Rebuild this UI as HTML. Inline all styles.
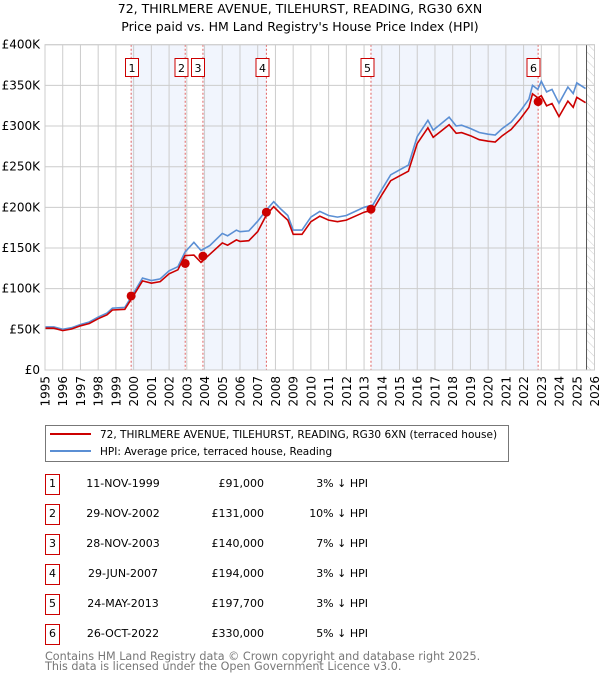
<!DOCTYPE html>
<html><head><meta charset="utf-8">
<style>
body{margin:0;background:#fff;font-family:"Liberation Sans","DejaVu Sans",sans-serif;}
svg text{font-family:"DejaVu Sans","Liberation Sans",sans-serif;}
</style></head>
<body>
<svg id="chart" width="600" height="680" xmlns="http://www.w3.org/2000/svg">
<text x="300" y="13" text-anchor="middle" font-size="12.5">72, THIRLMERE AVENUE, TILEHURST, READING, RG30 6XN</text>
<text x="300" y="31" text-anchor="middle" font-size="12.5">Price paid vs. HM Land Registry's House Price Index (HPI)</text>
<g id="plot"></g>
<g>
<rect x="45.5" y="425.5" width="463" height="36" fill="#fff" stroke="#777"/>
<line x1="50" y1="434" x2="91" y2="434" stroke="#cc0000" stroke-width="2"/>
<text x="100" y="438" font-size="10.5">72, THIRLMERE AVENUE, TILEHURST, READING, RG30 6XN (terraced house)</text>
<line x1="50" y1="451" x2="91" y2="451" stroke="#5b8fd4" stroke-width="2"/>
<text x="100" y="455" font-size="10.5">HPI: Average price, terraced house, Reading</text>
</g>
<g id="table"></g>
<text x="45" y="660" font-size="11.2" fill="#777">Contains HM Land Registry data © Crown copyright and database right 2025.</text>
<text x="45" y="670" font-size="11.2" fill="#777">This data is licensed under the Open Government Licence v3.0.</text>
</svg>
<script>
const hpiYears=[1995.0,1995.5,1996.0,1996.5,1997.0,1997.5,1998.0,1998.5,1998.8,1999.5,1999.9,2000.5,2001.0,2001.5,2002.0,2002.5,2002.9,2003.4,2003.8,2004.3,2005.0,2005.3,2005.8,2006.0,2006.5,2007.0,2007.5,2007.9,2008.3,2008.7,2009.0,2009.5,2010.0,2010.5,2011.0,2011.5,2012.0,2012.5,2013.0,2013.5,2014.0,2014.5,2015.0,2015.5,2016.0,2016.6,2016.9,2017.3,2017.8,2018.2,2018.5,2019.0,2019.5,2020.0,2020.4,2020.8,2021.3,2021.8,2022.3,2022.5,2022.8,2023.0,2023.3,2023.6,2024.0,2024.5,2024.8,2025.0,2025.5];
const hpiValues=[53,53,50,52,56,59,65,70,76,77,91,113,110,112,122,127,145,157,147,153,168,165,172,170,171,183,197,207,198,190,172,172,188,195,190,188,190,195,200,203,222,240,246,252,287,307,295,302,311,300,301,297,292,290,289,297,305,318,333,350,345,355,342,345,328,348,340,353,346];
const saleDates=[1999.86,2002.91,2003.91,2007.49,2013.39,2022.82];
const salePrices=[91000,131000,140000,194000,197700,330000];
const saleLabels=["11-NOV-1999","29-NOV-2002","28-NOV-2003","29-JUN-2007","24-MAY-2013","26-OCT-2022"];
const salePriceText=["£91,000","£131,000","£140,000","£194,000","£197,700","£330,000"];
const saleHpiPct=[3,10,7,3,3,5];
const yTicks=[0,50,100,150,200,250,300,350,400];
const yTickLabels=["£0","£50K","£100K","£150K","£200K","£250K","£300K","£350K","£400K"];
const xTicks=[1995,1996,1997,1998,1999,2000,2001,2002,2003,2004,2005,2006,2007,2008,2009,2010,2011,2012,2013,2014,2015,2016,2017,2018,2019,2020,2021,2022,2023,2024,2025,2026];

const NS="http://www.w3.org/2000/svg";
const X0=45,X1=594.5,Y0=370,Y1=44.7;
const xs=y=>X0+(y-1995)/(2026-1995)*(X1-X0);
const ys=v=>Y0-v/400*(Y0-Y1);
const plot=document.getElementById('plot');
function mk(tag,attrs,parent){const e=document.createElementNS(NS,tag);for(const k in attrs)e.setAttribute(k,attrs[k]);(parent||plot).appendChild(e);return e;}
mk('rect',{x:X0,y:Y1,width:X1-X0,height:Y0-Y1,fill:'#fff'});
for(let i=0;i+1<saleDates.length;i+=2){
  const r=mk('rect',{x:xs(saleDates[i]),y:Y1,width:xs(saleDates[i+1])-xs(saleDates[i]),height:Y0-Y1,fill:'#eef3fc',opacity:0.8});
  
  
}
const defs=mk('defs',{});
const pat=mk('pattern',{id:'hatch',width:6,height:6,patternUnits:'userSpaceOnUse',patternTransform:'rotate(-45)'},defs);
mk('line',{x1:0,y1:0,x2:0,y2:6,stroke:'#ccc','stroke-width':1},pat);
const hx=xs(2025.55);
const hr=mk('rect',{x:hx,y:Y1,width:X1-hx,height:Y0-Y1,fill:'url(#hatch)'});


xTicks.forEach((t,i)=>{
  mk('line',{x1:xs(t),y1:Y1,x2:xs(t),y2:Y0,stroke:'#ccc','stroke-width':1});
  const tx=mk('text',{x:0,y:0,'font-size':12,'text-anchor':'end',transform:`translate(${xs(t)+4.5},${Y0+6}) rotate(-90)`});
  tx.textContent=t;
  
  
});
yTicks.forEach((t,i)=>{
  mk('line',{x1:X0,y1:ys(t),x2:X1,y2:ys(t),stroke:'#ccc','stroke-width':1});
  const tx=mk('text',{x:40,y:ys(t)+4,'font-size':12,'text-anchor':'end'});
  tx.textContent=yTickLabels[i];
  
  
});
mk('line',{x1:hx,y1:Y1,x2:hx,y2:Y0,stroke:'#555','stroke-width':1});
saleDates.forEach((d,i)=>{
  mk('line',{x1:xs(d),y1:Y1,x2:xs(d),y2:Y0,stroke:'#e06060','stroke-width':1,'stroke-dasharray':'2,2'});
  const g=mk('g',{});
  
  
  const bx=[125.5,175,191.5,256,361,527][i];
  mk('rect',{x:bx,y:58.5,width:13,height:18,fill:'#fff',stroke:'#cc0000'},g);
  const t=mk('text',{x:bx+6.5,y:72,'font-size':11,'text-anchor':'middle'},g);
  t.textContent=i+1;
});
function ratioAt(y){let idx=0;for(let i=0;i<saleDates.length;i++)if(y>=saleDates[i])idx=i;return 1-saleHpiPct[idx]/100;}
let pb='',pr='';
hpiYears.forEach((y,i)=>{pb+=(i?'L':'M')+xs(y).toFixed(1)+','+ys(hpiValues[i]).toFixed(1);
  pr+=(i?'L':'M')+xs(y).toFixed(1)+','+ys(hpiValues[i]*ratioAt(y)).toFixed(1);});
const lb=mk('path',{d:pb,fill:'none',stroke:'#5b8fd4','stroke-width':1.6});


const lr=mk('path',{d:pr,fill:'none',stroke:'#cc0000','stroke-width':1.6});


saleDates.forEach((d,i)=>{
  const c=mk('circle',{cx:xs(d),cy:ys(salePrices[i]/1000),r:4.5,fill:'#cc0000'});
  
  
});
mk('rect',{x:X0,y:Y1,width:X1-X0,height:Y0-Y1,fill:'none',stroke:'#ccc'});
const tb=document.getElementById('table');
saleLabels.forEach((lab,i)=>{
  const cy=483+i*30;
  const r=mk('g',{},tb);
  
  
  mk('rect',{x:45.5,y:cy-8.5,width:14,height:20,fill:'#fff',stroke:'#cc0000'},r);
  let t=mk('text',{x:52.5,y:cy+4,'font-size':11,'text-anchor':'middle'},r);t.textContent=i+1;
  t=mk('text',{x:123,y:cy+4,'font-size':11,'text-anchor':'middle'},r);t.textContent=lab;
  t=mk('text',{x:264,y:cy+4,'font-size':11,'text-anchor':'end'},r);t.textContent=salePriceText[i];
  t=mk('text',{x:368,y:cy+4,'font-size':11,'text-anchor':'end'},r);t.textContent=saleHpiPct[i]+'% ↓ HPI';
});
</script>
</body></html>
